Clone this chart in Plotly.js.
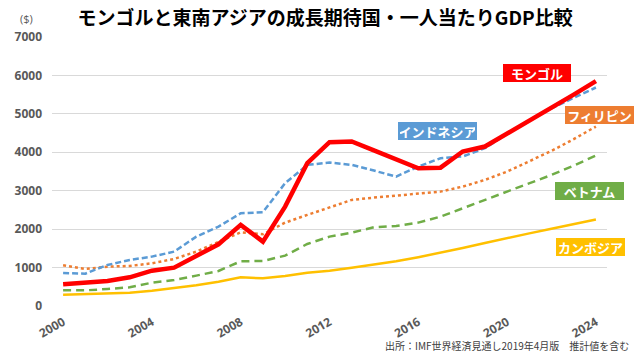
<!DOCTYPE html>
<html>
<head>
<meta charset="utf-8">
<script src="https://cdn.plot.ly/plotly-3.0.1.min.js"></script>
<style>
html,body{margin:0;padding:0;background:#fff;}
#chart{width:640px;height:355px;}
</style>
</head>
<body>
<div id="chart"></div>
<script>
const years = [2000,2001,2002,2003,2004,2005,2006,2007,2008,2009,2010,2011,2012,2013,2014,2015,2016,2017,2018,2019,2020,2021,2022,2023,2024];
const mongolia    = [565,607,650,747,920,998,1300,1606,2110,1675,2587,3715,4262,4280,4050,3820,3585,3600,4020,4150,4480,4820,5150,5500,5850];
const indonesia   = [858,842,1068,1198,1285,1415,1805,2065,2413,2440,3195,3672,3733,3672,3524,3368,3628,3845,3890,4106,4480,4826,5146,5408,5686];
const philippines = [1060,963,1024,1042,1111,1224,1415,1675,1918,1866,2170,2370,2570,2760,2820,2873,2916,2977,3107,3281,3498,3758,4036,4341,4670];
const vietnam     = [408,407,443,486,607,677,790,911,1164,1172,1310,1615,1805,1909,2049,2083,2170,2326,2543,2760,2977,3195,3411,3654,3914];
const cambodia    = [295,312,330,347,399,460,538,633,747,720,781,867,920,998,1085,1163,1270,1385,1510,1640,1770,1890,2010,2130,2250];
const tickYears = [2000,2004,2008,2012,2016,2020,2024];
const tickText = ['2000','2004','2008','2012','2016','2020','2024'];
const yTicks = [0,1000,2000,3000,4000,5000,6000,7000];

const names = ['モンゴル','インドネシア','フィリピン','ベトナム','カンボジア'];
const colors = {mongolia:'#FF0000', indonesia:'#5B9BD5', philippines:'#ED7D31', vietnam:'#70AD47', cambodia:'#FFC000'};

const traces = [
  {x:years, y:cambodia, name:names[4], mode:'lines', line:{color:colors.cambodia, width:2.5}},
  {x:years, y:vietnam, name:names[3], mode:'lines', line:{color:colors.vietnam, width:2.5, dash:'8px,5px'}},
  {x:years, y:philippines, name:names[2], mode:'lines', line:{color:colors.philippines, width:2.5, dash:'dot'}},
  {x:years, y:indonesia, name:names[1], mode:'lines', line:{color:colors.indonesia, width:2.5, dash:'6px,3px'}},
  {x:years, y:mongolia, name:names[0], mode:'lines', line:{color:colors.mongolia, width:4.5}}
];

const tickFont = {family:'"Open Sans","Noto Sans CJK JP",sans-serif', size:12, color:'#595959', weight:'bold'};
function label(text, x, y, color, w){
  return {text:'<b>'+text+'</b>', x:x, y:y, xref:'x', yref:'y', showarrow:false,
    font:{family:'"Noto Sans CJK JP",sans-serif', size:13, color:'#FFFFFF'},
    bgcolor:color, bordercolor:color, borderwidth:1, borderpad:1, width:w, height:14};
}

const layout = {
  width:640, height:355,
  margin:{l:52, r:33, t:37, b:49},
  paper_bgcolor:'#FFFFFF', plot_bgcolor:'#FFFFFF',
  showlegend:false,
  title:{text:'<b>モンゴルと東南アジアの成長期待国・一人当たりGDP比較</b>',
    font:{family:'"Noto Sans CJK JP",sans-serif', size:19, color:'#000000'},
    x:0.508, xanchor:'center', y:0.948, yanchor:'middle'},
  xaxis:{range:[1999.5,2024.5], tickmode:'array', tickvals:tickYears, ticktext:tickText,
    tickangle:-30, showgrid:false, zeroline:false, showline:false, ticks:'',
    tickfont:tickFont, ticklabelstandoff:6},
  yaxis:{range:[0,7000], tickmode:'array', tickvals:yTicks, showgrid:true, gridcolor:'#D9D9D9', gridwidth:1,
    zeroline:false, showline:false, ticks:'', tickfont:tickFont, ticklabelstandoff:9},
  annotations:[
    label(names[0], 2021.35, 6068, colors.mongolia, 64),
    label(names[2], 2024.17, 4961, colors.philippines, 65),
    label(names[1], 2016.87, 4557, colors.indonesia, 75),
    label(names[3], 2023.72, 2982, colors.vietnam, 65),
    label(names[4], 2023.76, 1523, colors.cambodia, 65),
    {text:'($)', xref:'paper', yref:'paper', x:-0.03, y:1.07, xanchor:'right', yanchor:'middle', showarrow:false,
      font:{family:'"Open Sans",sans-serif', size:11, color:'#595959'}},
    {text:'出所：IMF世界経済見通し2019年4月版　推計値を含む', xref:'paper', yref:'paper', x:1.044, y:-0.148,
      xanchor:'right', yanchor:'middle', showarrow:false,
      font:{family:'"Noto Sans CJK JP",sans-serif', size:10, color:'#404040'}}
  ]
};

Plotly.newPlot('chart', traces, layout, {displayModeBar:false, staticPlot:true});
</script>
</body>
</html>
